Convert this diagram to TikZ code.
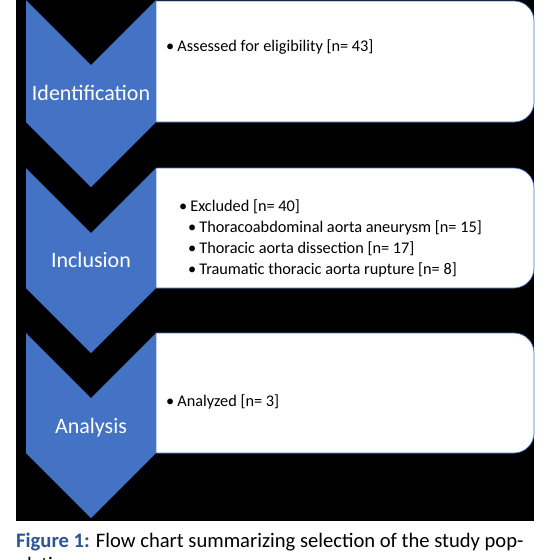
\documentclass[tikz,border=0pt]{standalone}
\usepackage{fontspec}
\setmainfont{Carlito}
\definecolor{chev}{RGB}{68,114,196}
\definecolor{capblue}{RGB}{46,84,150}
\begin{document}
\begin{tikzpicture}[x=1pt,y=-1pt,
  chevron/.style={fill=chev},
  boxshape/.style={fill=white,draw=chev,line width=0.7pt},
  stage/.style={text=white,font=\fontsize{22}{24}\selectfont,inner sep=0pt},
  item/.style={anchor=west,inner sep=0pt,font=\fontsize{16.3}{21}\selectfont,align=left},
  captext/.style={anchor=base west,inner sep=0pt,font=\fontsize{20.6}{24}\selectfont}]
\useasboundingbox (0,0) rectangle (560,560);
\fill[white] (0,0) rectangle (560,560);
\fill[black] (16,0) rectangle (534,521);
% chevrons
\foreach \t/\s in {0/122,168/288,333/453}{
  \fill[chevron] (26,\t) -- (91,\t+65) -- (156,\t) -- (156,\s) -- (91,\s+65) -- (26,\s) -- cycle;
}
% boxes
\foreach \t/\b in {1/122,168/288,333/453}{
  \draw[boxshape] (156,\t) -- (514,\t) .. controls (525,\t) and (534,\t+9) .. (534,\t+20) -- (534,\b-20) .. controls (534,\b-9) and (525,\b) .. (514,\b) -- (156,\b) -- cycle;
}
\node[stage] (lab1) at (91,93) {Identification};
\node[stage] (lab2) at (91,260) {Inclusion};
\node[stage] (lab3) at (91,428) {Analysis};
\node[item] (t1) at (166,47) {\textbullet\hspace{3pt}Assessed for eligibility [n= 43]};
\node[item] (t2) at (179,207) {\textbullet\hspace{3pt}Excluded [n= 40]};
\node[item] (t3) at (188,228) {\textbullet\hspace{3pt}Thoracoabdominal aorta aneurysm [n= 15]};
\node[item] (t4) at (188,249) {\textbullet\hspace{3pt}Thoracic aorta dissection [n= 17]};
\node[item] (t5) at (188,270) {\textbullet\hspace{3pt}Traumatic thoracic aorta rupture [n= 8]};
\node[item] (t6) at (166,402) {\textbullet\hspace{3pt}Analyzed [n= 3]};
\node[captext] (cap1) at (16,547) {\textcolor{capblue}{\textbf{Figure 1:}} Flow chart summarizing selection of the study pop-};
\node[captext] (cap2) at (16,571) {ulation.};
\end{tikzpicture}
\end{document}
